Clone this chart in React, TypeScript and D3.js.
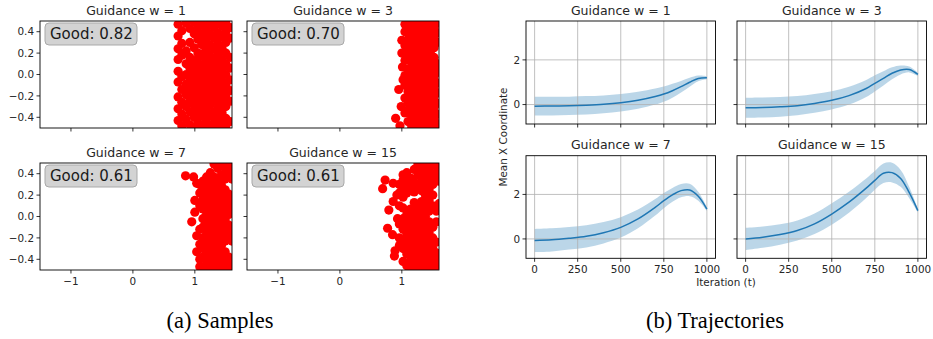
import React from "react";
import * as d3 from "d3";

// ---- data ----
const guidanceLabels = ["Guidance w = 1", "Guidance w = 3", "Guidance w = 7", "Guidance w = 15"];
const goodScores = ["Good: 0.82", "Good: 0.70", "Good: 0.61", "Good: 0.61"];

const sampleXTicks = [-1, 0, 1];
const sampleYTicks = [0.4, 0.2, 0.0, -0.2, -0.4];
const trajXTicks = [0, 250, 500, 750, 1000];
const trajYTicks = [0, 2];

// final samples, grouped by x column: [x, [y...]]
type Col = [number, number[]];
const samplesW1: Col[] = [
  [0.73, [0.47, 0.36, 0.24, 0.14, 0.03, -0.07, -0.21, -0.32, -0.43]],
  [0.79, [0.41, 0.29, 0.18, -0.02, -0.14, -0.26, -0.37, -0.48]],
  [0.86, [0.48, 0.22, 0.1, 0.0, -0.09, -0.19, -0.3, -0.42]],
  [0.92, [0.43, 0.3, 0.16, 0.06, -0.04, -0.14, -0.24, -0.35, -0.47]],
  [0.99, [0.49, 0.38, 0.25, 0.11, 0.01, -0.09, -0.19, -0.29, -0.4, -0.5]],
  [1.05, [0.44, 0.33, 0.2, 0.15, 0.05, -0.04, -0.14, -0.24, -0.34, -0.45]],
  [1.11, [0.48, 0.38, 0.28, 0.19, 0.09, 0.0, -0.1, -0.19, -0.29, -0.39, -0.49]],
  [1.18, [0.43, 0.33, 0.23, 0.14, 0.04, -0.05, -0.15, -0.24, -0.34, -0.44]],
  [1.24, [0.49, 0.38, 0.28, 0.18, 0.09, -0.01, -0.1, -0.2, -0.29, -0.39, -0.49]],
  [1.31, [0.44, 0.34, 0.24, 0.13, 0.04, -0.06, -0.15, -0.25, -0.35, -0.45]],
  [1.37, [0.49, 0.39, 0.29, 0.19, 0.09, -0.01, -0.11, -0.21, -0.31, -0.41, -0.5]],
  [1.44, [0.45, 0.35, 0.24, 0.14, 0.04, -0.06, -0.16, -0.26, -0.36, -0.46]],
  [1.5, [0.49, 0.4, 0.3, 0.2, 0.1, 0.0, -0.1, -0.2, -0.3, -0.41, -0.49]],
  [1.57, [0.44, 0.34, 0.16, 0.06, -0.05, -0.15, -0.25, -0.44]],
];

const samplesW3: Col[] = [
  [1.0, [0.32, 0.2]],
  [1.01, [0.07]],
  [1.02, [-0.05]],
  [0.95, [-0.14]],
  [0.99, [-0.3]],
  [0.9, [-0.41]],
  [0.97, [-0.48]],
  [1.05, [0.47, 0.4, 0.27, 0.13, -0.01, -0.1, -0.22, -0.36]],
  [1.1, [0.49, 0.42, 0.33, 0.23, 0.16, 0.05, -0.05, -0.16, -0.26, -0.33, -0.44]],
  [1.16, [0.46, 0.37, 0.28, 0.19, 0.1, 0.0, -0.1, -0.2, -0.3, -0.39, -0.49]],
  [1.22, [0.49, 0.41, 0.32, 0.23, 0.14, 0.05, -0.05, -0.15, -0.25, -0.35, -0.44]],
  [1.28, [0.45, 0.36, 0.27, 0.18, 0.09, 0.0, -0.1, -0.2, -0.3, -0.4, -0.49]],
  [1.34, [0.49, 0.4, 0.31, 0.22, 0.13, 0.04, -0.06, -0.15, -0.25, -0.35, -0.45]],
  [1.4, [0.45, 0.36, 0.26, 0.17, 0.08, -0.01, -0.11, -0.21, -0.3, -0.4, -0.5]],
  [1.46, [0.49, 0.4, 0.3, 0.21, 0.12, 0.03, -0.06, -0.16, -0.26, -0.36, -0.45]],
  [1.52, [0.44, 0.35, 0.25, 0.16, 0.07, -0.02, -0.11, -0.21, -0.31, -0.41, -0.5]],
  [1.58, [0.48, 0.39, 0.3, 0.1, 0.02, -0.08, -0.17, -0.27, -0.37, -0.46]],
];

const samplesW7: Col[] = [
  [0.85, [0.38]],
  [0.98, [0.37]],
  [1.03, [0.31, -0.18, -0.33]],
  [0.95, [-0.05]],
  [1.0, [0.04, 0.15]],
  [1.08, [0.3, 0.22, 0.1, -0.12, -0.26, -0.4, -0.47]],
  [1.13, [0.33, 0.25, 0.16, 0.07, -0.02, -0.1, -0.2, -0.3, -0.38, -0.48]],
  [1.19, [0.37, 0.28, 0.2, 0.11, 0.02, -0.07, -0.16, -0.26, -0.35, -0.44]],
  [1.25, [0.41, 0.32, 0.24, 0.15, 0.06, -0.03, -0.12, -0.22, -0.31, -0.41, -0.5]],
  [1.31, [0.49, 0.37, 0.28, 0.19, 0.1, 0.01, -0.08, -0.17, -0.27, -0.36, -0.46]],
  [1.37, [0.45, 0.33, 0.24, 0.15, 0.06, -0.03, -0.13, -0.22, -0.32, -0.41, -0.5]],
  [1.43, [0.49, 0.39, 0.29, 0.2, 0.11, 0.01, -0.08, -0.18, -0.27, -0.37, -0.46]],
  [1.49, [0.45, 0.35, 0.25, 0.16, 0.06, -0.03, -0.13, -0.23, -0.33, -0.42, -0.5]],
  [1.55, [0.49, 0.4, 0.21, 0.11, 0.02, -0.08, -0.18, -0.38, -0.47]],
  [1.6, [0.44, 0.35, 0.15, 0.05, -0.13, -0.23, -0.42]],
];

const samplesW15: Col[] = [
  [0.73, [0.34]],
  [0.86, [0.31, 0.14]],
  [0.69, [0.26]],
  [1.02, [0.39]],
  [0.79, [0.06]],
  [0.77, [-0.11]],
  [0.89, [-0.32]],
  [0.88, [-0.37]],
  [0.92, [0.2]],
  [0.85, [-0.17]],
  [0.93, [-0.02]],
  [0.96, [0.3, 0.22, 0.1, -0.07, -0.2, -0.27]],
  [1.02, [0.34, 0.26, 0.18, 0.08, -0.02, -0.12, -0.22, -0.3, -0.42]],
  [1.08, [0.41, 0.3, 0.22, 0.02, -0.07, -0.17, -0.26, -0.35, -0.46]],
  [1.14, [0.36, 0.27, 0.07, -0.02, -0.12, -0.22, -0.31, -0.41, -0.5]],
  [1.2, [0.44, 0.32, 0.23, 0.13, 0.03, -0.07, -0.17, -0.27, -0.37, -0.46]],
  [1.26, [0.49, 0.39, 0.29, 0.09, -0.01, -0.11, -0.21, -0.31, -0.4, -0.49]],
  [1.32, [0.45, 0.35, 0.24, 0.14, 0.05, -0.06, -0.16, -0.26, -0.36, -0.45]],
  [1.38, [0.49, 0.4, 0.3, 0.2, 0.1, 0.0, -0.1, -0.2, -0.3, -0.4, -0.49]],
  [1.44, [0.45, 0.35, 0.25, 0.15, 0.05, -0.05, -0.15, -0.25, -0.35, -0.45]],
  [1.5, [0.49, 0.4, 0.3, 0.2, 0.1, -0.1, -0.2, -0.3, -0.41, -0.5]],
  [1.56, [0.47, 0.37, 0.05, -0.05, -0.24, -0.34, -0.46]],
  [1.6, [0.43, 0.33, 0.12, -0.4]],
];

// trajectories: mean x coordinate and spread per iteration
const iterations = [0, 100, 200, 300, 400, 500, 600, 700, 750, 800, 850, 900, 950, 1000];
const meanW1 = [-0.07, -0.065, -0.055, -0.03, 0.01, 0.08, 0.19, 0.36, 0.47, 0.62, 0.8, 1.0, 1.17, 1.2];
const stdW1 = [0.42, 0.42, 0.41, 0.41, 0.4, 0.39, 0.38, 0.36, 0.34, 0.31, 0.26, 0.2, 0.13, 0.07];
const meanW3 = [-0.14, -0.13, -0.1, -0.05, 0.05, 0.19, 0.4, 0.72, 0.95, 1.17, 1.4, 1.55, 1.57, 1.35];
const stdW3 = [0.45, 0.45, 0.44, 0.43, 0.42, 0.41, 0.4, 0.38, 0.36, 0.32, 0.27, 0.2, 0.13, 0.07];
const meanW7 = [-0.07, -0.04, 0.03, 0.12, 0.28, 0.52, 0.9, 1.42, 1.72, 1.98, 2.17, 2.2, 1.92, 1.34];
const stdW7 = [0.52, 0.52, 0.51, 0.5, 0.48, 0.46, 0.42, 0.37, 0.34, 0.31, 0.3, 0.28, 0.2, 0.08];
const meanW15 = [0.0, 0.08, 0.2, 0.38, 0.68, 1.12, 1.65, 2.28, 2.63, 2.95, 2.98, 2.72, 2.08, 1.27];
const stdW15 = [0.5, 0.48, 0.46, 0.45, 0.46, 0.48, 0.47, 0.44, 0.42, 0.44, 0.44, 0.38, 0.25, 0.08];

const samples = [samplesW1, samplesW3, samplesW7, samplesW15];
const means = [meanW1, meanW3, meanW7, meanW15];
const stds = [stdW1, stdW3, stdW7, stdW15];

const FONT = "'DejaVu Sans', sans-serif";
const INK = "#262626";
const C0 = "#1f77b4";

type Box = { x: number; y: number; w: number; h: number };

function SamplePanel({ idx, box, xLabels, yLabels }: { idx: number; box: Box; xLabels: boolean; yLabels: boolean }) {
  const x = d3.scaleLinear().domain([-1.5, 1.6]).range([box.x, box.x + box.w]);
  const y = d3.scaleLinear().domain([-0.5, 0.5]).range([box.y + box.h, box.y]);
  const fmt = d3.format(".1f");
  const pts = samples[idx].flatMap(([cx, ys]) => ys.map((cy) => [cx, cy]));
  const clip = `clip-s${idx}`;
  return (
    <g>
      <defs>
        <clipPath id={clip}>
          <rect x={box.x} y={box.y} width={box.w} height={box.h} />
        </clipPath>
      </defs>
      <g clipPath={`url(#${clip})`}>
        {pts.map(([a, b], i) => (
          <circle key={i} cx={x(a)} cy={y(b)} r={4.6} fill="#ff0000" />
        ))}
      </g>
      <rect x={box.x} y={box.y} width={box.w} height={box.h} fill="none" stroke="#000" strokeWidth={0.9} />
      {sampleXTicks.map((t) => (
        <g key={`x${t}`}>
          <line x1={x(t)} x2={x(t)} y1={box.y + box.h} y2={box.y + box.h + 3.5} stroke="#000" strokeWidth={0.8} />
          {xLabels && (
            <text x={x(t)} y={box.y + box.h + 15} textAnchor="middle" fontSize={10.4} fill={INK}>
              {d3.format("d")(t)}
            </text>
          )}
        </g>
      ))}
      {sampleYTicks.map((t) => (
        <g key={`y${t}`}>
          <line x1={box.x - 3.5} x2={box.x} y1={y(t)} y2={y(t)} stroke="#000" strokeWidth={0.8} />
          {yLabels && (
            <text x={box.x - 6} y={y(t)} dy="0.36em" textAnchor="end" fontSize={10.4} fill={INK}>
              {fmt(t)}
            </text>
          )}
        </g>
      ))}
      <text x={box.x + box.w / 2} y={box.y - 6.5} textAnchor="middle" fontSize={12.5} fill={INK}>
        {guidanceLabels[idx]}
      </text>
      <rect x={box.x + 5} y={box.y + 2} width={92} height={22} rx={4} fill="#d3d3d3" stroke="#a9a9a9" strokeWidth={1} />
      <text x={box.x + 10} y={box.y + 18} fontSize={15} fill="#1a1a1a">
        {goodScores[idx]}
      </text>
    </g>
  );
}

function TrajPanel({ idx, box, xLabels, yLabels }: { idx: number; box: Box; xLabels: boolean; yLabels: boolean }) {
  const x = d3.scaleLinear().domain([-50, 1050]).range([box.x, box.x + box.w]);
  const y = d3.scaleLinear().domain([-0.87, 3.74]).range([box.y + box.h, box.y]);
  const m = means[idx];
  const s = stds[idx];
  const area = d3
    .area<number>()
    .x((t) => x(t))
    .y0((_t, i) => y(m[i] - s[i]))
    .y1((_t, i) => y(m[i] + s[i]))
    .curve(d3.curveCatmullRom.alpha(0.5));
  const line = d3
    .line<number>()
    .x((t) => x(t))
    .y((_t, i) => y(m[i]))
    .curve(d3.curveCatmullRom.alpha(0.5));
  return (
    <g>
      <path d={area(iterations) || ""} fill={C0} fillOpacity={0.3} />
      {trajXTicks.map((t) => (
        <line key={`gx${t}`} x1={x(t)} x2={x(t)} y1={box.y} y2={box.y + box.h} stroke="#b0b0b0" strokeWidth={0.8} />
      ))}
      {trajYTicks.map((t) => (
        <line key={`gy${t}`} x1={box.x} x2={box.x + box.w} y1={y(t)} y2={y(t)} stroke="#b0b0b0" strokeWidth={0.8} />
      ))}
      <path d={line(iterations) || ""} fill="none" stroke={C0} strokeWidth={1.5} />
      <rect x={box.x} y={box.y} width={box.w} height={box.h} fill="none" stroke="#000" strokeWidth={0.9} />
      {trajXTicks.map((t) => (
        <g key={`x${t}`}>
          <line x1={x(t)} x2={x(t)} y1={box.y + box.h} y2={box.y + box.h + 3.5} stroke="#000" strokeWidth={0.8} />
          {xLabels && (
            <text x={x(t)} y={box.y + box.h + 15} textAnchor="middle" fontSize={10.4} fill={INK}>
              {t}
            </text>
          )}
        </g>
      ))}
      {trajYTicks.map((t) => (
        <g key={`y${t}`}>
          <line x1={box.x - 3.5} x2={box.x} y1={y(t)} y2={y(t)} stroke="#000" strokeWidth={0.8} />
          {yLabels && (
            <text x={box.x - 6} y={y(t)} dy="0.36em" textAnchor="end" fontSize={10.4} fill={INK}>
              {t}
            </text>
          )}
        </g>
      ))}
      <text x={box.x + box.w / 2} y={box.y - 6.5} textAnchor="middle" fontSize={12.5} fill={INK}>
        {guidanceLabels[idx]}
      </text>
    </g>
  );
}

export default function App() {
  const sampleBoxes: Box[] = [
    { x: 40, y: 21, w: 192, h: 107 },
    { x: 247, y: 21, w: 192, h: 107 },
    { x: 40, y: 163, w: 192, h: 107 },
    { x: 247, y: 163, w: 192, h: 107 },
  ];
  const trajBoxes: Box[] = [
    { x: 526, y: 21, w: 189.5, h: 103 },
    { x: 737, y: 21, w: 189.5, h: 103 },
    { x: 526, y: 155.7, w: 189.5, h: 102.6 },
    { x: 737, y: 155.7, w: 189.5, h: 102.6 },
  ];
  return (
    <div style={{ position: "absolute", left: 0, top: 0 }}>
      <svg width={933} height={339} viewBox="0 0 933 339" style={{ display: "block", background: "#fff" }} fontFamily={FONT}>
        {sampleBoxes.map((b, i) => (
          <SamplePanel key={i} idx={i} box={b} xLabels={i >= 2} yLabels={i % 2 === 0} />
        ))}
        {trajBoxes.map((b, i) => (
          <TrajPanel key={i} idx={i} box={b} xLabels={i >= 2} yLabels={i % 2 === 0} />
        ))}
        <text transform="translate(507,137) rotate(-90)" textAnchor="middle" fontSize={10.4} fill={INK}>
          Mean X Coordinate
        </text>
        <text x={726} y={286} textAnchor="middle" fontSize={10.4} fill={INK}>
          Iteration (t)
        </text>
        <g fontFamily="'Liberation Serif', 'Times New Roman', serif" fontSize={22.5} fill="#000">
          <text x={220} y={328} textAnchor="middle">(a) Samples</text>
          <text x={715} y={328} textAnchor="middle">(b) Trajectories</text>
        </g>
      </svg>
    </div>
  );
}
